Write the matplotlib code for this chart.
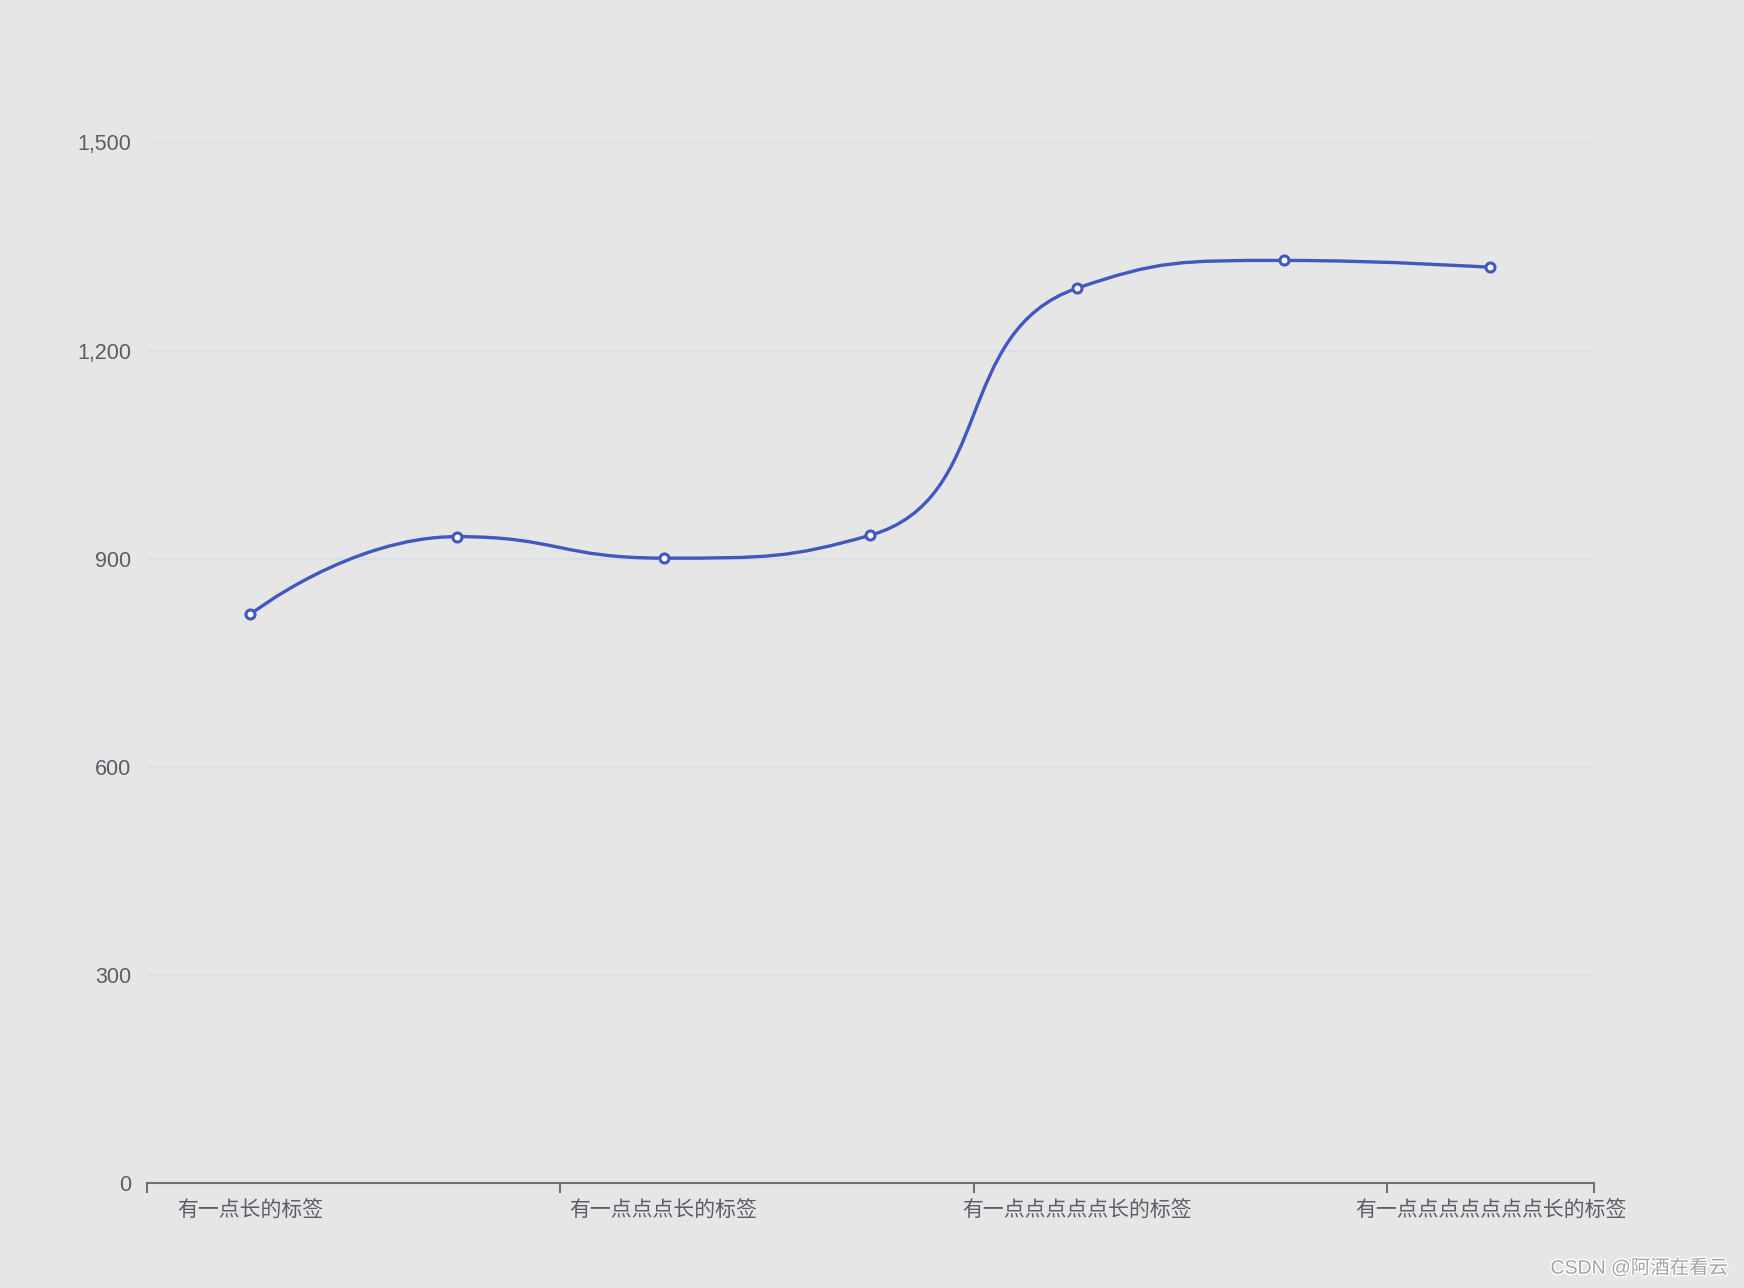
import math

import matplotlib
matplotlib.use("Agg")
import matplotlib.pyplot as plt
import matplotlib.patheffects as pe
from matplotlib.path import Path
from matplotlib.patches import PathPatch

plt.rcParams["font.family"] = ["Noto Sans CJK SC", "DejaVu Sans"]

# ── Data ────────────────────────────────────────────────
categories = [
    "有一点长的标签",
    "有一点点长的标签",
    "有一点点点长的标签",
    "有一点点点点长的标签",
    "有一点点点点点长的标签",
    "有一点点点点点点长的标签",
    "有一点点点点点点点长的标签",
]
values = [820, 932, 901, 934, 1290, 1330, 1320]
y_ticks = [0, 300, 600, 900, 1200, 1500]

# ── Colors ──────────────────────────────────────────────
BG = "#e6e6e6"
LINE = "#4257bf"
GRID = "#d8deea"
AXIS = "#6e7079"
TEXT = "#5c5d66"


def smooth_path(xs, ys, sx, sy, smooth=0.5):
    """ECharts-style bezier smoothing, computed in pixel space."""
    pts = [(x * sx, y * sy) for x, y in zip(xs, ys)]
    n = len(pts)
    verts = [pts[0]]
    codes = [Path.MOVETO]
    cp0 = pts[0]
    for k in range(1, n):
        x, y = pts[k]
        px, py = pts[k - 1]
        if k == n - 1:
            cp1 = (x, y)
            ncp = None
        else:
            nx, ny = pts[k + 1]
            vx, vy = nx - px, ny - py
            len_prev = math.hypot(x - px, y - py)
            len_next = math.hypot(nx - x, ny - y)
            ratio = len_next / (len_next + len_prev)
            ncx = x + vx * smooth * ratio
            ncy = y + vy * smooth * ratio
            ncx = max(min(ncx, max(nx, x)), min(nx, x))
            ncy = max(min(ncy, max(ny, y)), min(ny, y))
            vx, vy = ncx - x, ncy - y
            c1x = x - vx * len_prev / len_next
            c1y = y - vy * len_prev / len_next
            c1x = max(min(c1x, max(px, x)), min(px, x))
            c1y = max(min(c1y, max(py, y)), min(py, y))
            vx, vy = x - c1x, y - c1y
            ncp = (x + vx * len_next / len_prev, y + vy * len_next / len_prev)
            cp1 = (c1x, c1y)
        verts += [cp0, cp1, (x, y)]
        codes += [Path.CURVE4] * 3
        cp0 = ncp
    verts = [(vx / sx, vy / sy) for vx, vy in verts]
    return Path(verts, codes)


fig = plt.figure(figsize=(17.44, 12.88), dpi=100, facecolor=BG)
ax = fig.add_axes([0.0842, 0.0812, 0.8297, 0.8082])
ax.set_facecolor(BG)

xs = list(range(len(categories)))
ax.set_xlim(-0.5, len(categories) - 0.5)
ax.set_ylim(0, 1500)

# Grid lines
for t in y_ticks[1:]:
    ax.axhline(t, color=GRID, lw=1.2, zorder=1)

# Smooth line (pixel scale: ~207 px per category, ~0.694 px per unit)
path = smooth_path(xs, values, 206.7, 0.6943)
ax.add_patch(PathPatch(path, facecolor="none", edgecolor=LINE, lw=2.4,
                       zorder=3, capstyle="round", joinstyle="round"))
ax.plot(xs, values, ls="none", marker="o", ms=6.5, mfc="white", mec=LINE,
        mew=2.2, zorder=4)

# Spines
for s in ("top", "right", "left"):
    ax.spines[s].set_visible(False)
ax.spines["bottom"].set_color(AXIS)
ax.spines["bottom"].set_linewidth(1.5)

# Y axis
ax.set_yticks(y_ticks)
ax.set_yticklabels([f"{v:,}" for v in y_ticks],
                   family=["Liberation Sans", "DejaVu Sans"])
ax.tick_params(axis="y", length=0, pad=11, labelsize=15.5, labelcolor=TEXT)

# X axis: ticks at category boundaries, labels on every second category
ax.set_xticks([-0.5, 1.5, 3.5, 5.5, 6.5])
ax.set_xticklabels([])
ax.tick_params(axis="x", which="major", length=7, width=1.5, color=AXIS)
ax.set_xticks(xs[::2], minor=True)
ax.set_xticklabels(categories[::2], minor=True)
ax.tick_params(axis="x", which="minor", length=0, pad=12, labelsize=15,
               labelcolor=TEXT)

# Watermark
fig.text(0.991, 0.008, "CSDN @阿酒在看云", ha="right", va="bottom",
         fontsize=14, color="#a4a4a4",
         family=["Liberation Sans", "Noto Sans CJK SC"],
         path_effects=[pe.withStroke(linewidth=2, foreground="white")])

fig.savefig("out.png", dpi=100, facecolor=BG)
